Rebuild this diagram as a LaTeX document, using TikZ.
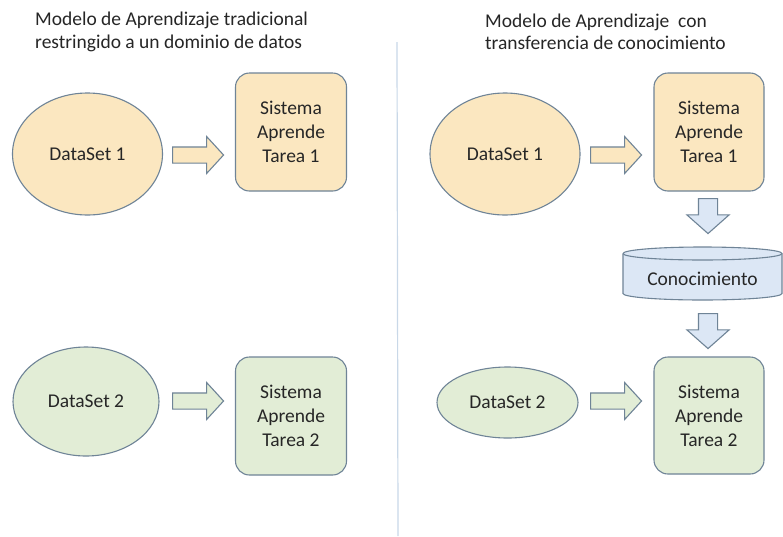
\documentclass[tikz,border=0pt]{standalone}
\usepackage{fontspec}
\setmainfont{Carlito}
\usetikzlibrary{shapes.geometric,shapes.arrows}

\definecolor{edge}{HTML}{6F8497}
\definecolor{ink}{HTML}{262626}
\definecolor{sand}{HTML}{FBE7C0}
\definecolor{sage}{HTML}{E2EDD6}
\definecolor{sky}{HTML}{DCE7F5}
\definecolor{divider}{HTML}{C9D8E8}

\tikzset{
  every node/.style={text=ink},
  shapebase/.style={draw=edge, line width=1.1pt},
  boxtext/.style={font=\fontsize{19.5}{24}\selectfont},
  dataset/.style={shapebase, ellipse, inner sep=0pt, boxtext},
  sistema/.style={shapebase, rectangle, rounded corners=14pt, inner sep=0pt,
                  align=center, boxtext},
  blockright/.style={shapebase, single arrow, inner xsep=0pt, inner ysep=7.5pt,
                     minimum height=51pt, single arrow head extend=10.5pt,
                     single arrow tip angle=95, anchor=tail},
  blockdown/.style={shapebase, single arrow, shape border rotate=270,
                    inner xsep=9pt, inner ysep=0pt, fill=sky,
                    minimum height=35pt, single arrow head extend=11.5pt,
                    single arrow tip angle=97, anchor=tail},
  heading/.style={anchor=west, align=left, inner sep=0pt,
                  font=\fontsize{19.5}{22.5}\selectfont}
}

\begin{document}
\begin{tikzpicture}[x=1pt,y=-1pt]
\useasboundingbox (0,0) rectangle (783,536);
\fill[white] (0,0) rectangle (783,536);

% separator between the two models
\coordinate (sepTop) at (397,42);
\coordinate (sepBot) at (398,536);
\draw[divider, line width=1.2pt] (sepTop) -- (sepBot);

% ---------- traditional model ----------
\node[heading] (titleL) at (35,32) {Modelo de Aprendizaje tradicional\\restringido a un dominio de datos};

\node[dataset, fill=sand, minimum width=150pt, minimum height=122pt] (dsA) at (87.5,154) {DataSet 1};
\node[blockright, fill=sand] (arA) at (172,155) {};
\node[sistema, fill=sand, minimum width=111pt, minimum height=118pt] (sysA) at (291,132) {Sistema\\Aprende\\Tarea 1};

\node[dataset, fill=sage, minimum width=146pt, minimum height=109pt] (dsB) at (86,401.5) {DataSet 2};
\node[blockright, fill=sage] (arB) at (172,401) {};
\node[sistema, fill=sage, minimum width=111pt, minimum height=118pt] (sysB) at (291,416) {Sistema\\Aprende\\Tarea 2};

% ---------- transfer model ----------
\node[heading] (titleR) at (485,32) {Modelo de Aprendizaje\ \ con\\transferencia de conocimiento};

\node[dataset, fill=sand, minimum width=150pt, minimum height=122pt] (dsC) at (505,154) {DataSet 1};
\node[blockright, fill=sand] (arC) at (590,155) {};
\node[sistema, fill=sand, minimum width=110pt, minimum height=118pt] (sysC) at (709,132) {Sistema\\Aprende\\Tarea 1};

\node[blockdown] (dnA) at (708,198) {};

% knowledge store drawn as a cylinder
\fill[sky] (623,253.5) -- (623,293.5)
  arc[start angle=180, end angle=360, x radius=79.5pt, y radius=6.5pt]
  -- (782,253.5)
  arc[start angle=0, end angle=180, x radius=79.5pt, y radius=6.5pt] -- cycle;
\draw[shapebase] (623,253.5) -- (623,293.5)
  arc[start angle=180, end angle=360, x radius=79.5pt, y radius=6.5pt]
  -- (782,253.5)
  arc[start angle=0, end angle=180, x radius=79.5pt, y radius=6.5pt];
\draw[shapebase] (623,253.5)
  arc[start angle=180, end angle=360, x radius=79.5pt, y radius=6.5pt];
\node[boxtext] (conoc) at (702.5,279) {Conocimiento};

\node[blockdown] (dnB) at (708,313) {};

\node[dataset, fill=sage, minimum width=141pt, minimum height=71pt] (dsD) at (507.5,402.5) {DataSet 2};
\node[blockright, fill=sage] (arD) at (590,401) {};
\node[sistema, fill=sage, minimum width=110pt, minimum height=117pt] (sysD) at (709,415.5) {Sistema\\Aprende\\Tarea 2};
\end{tikzpicture}
\end{document}
